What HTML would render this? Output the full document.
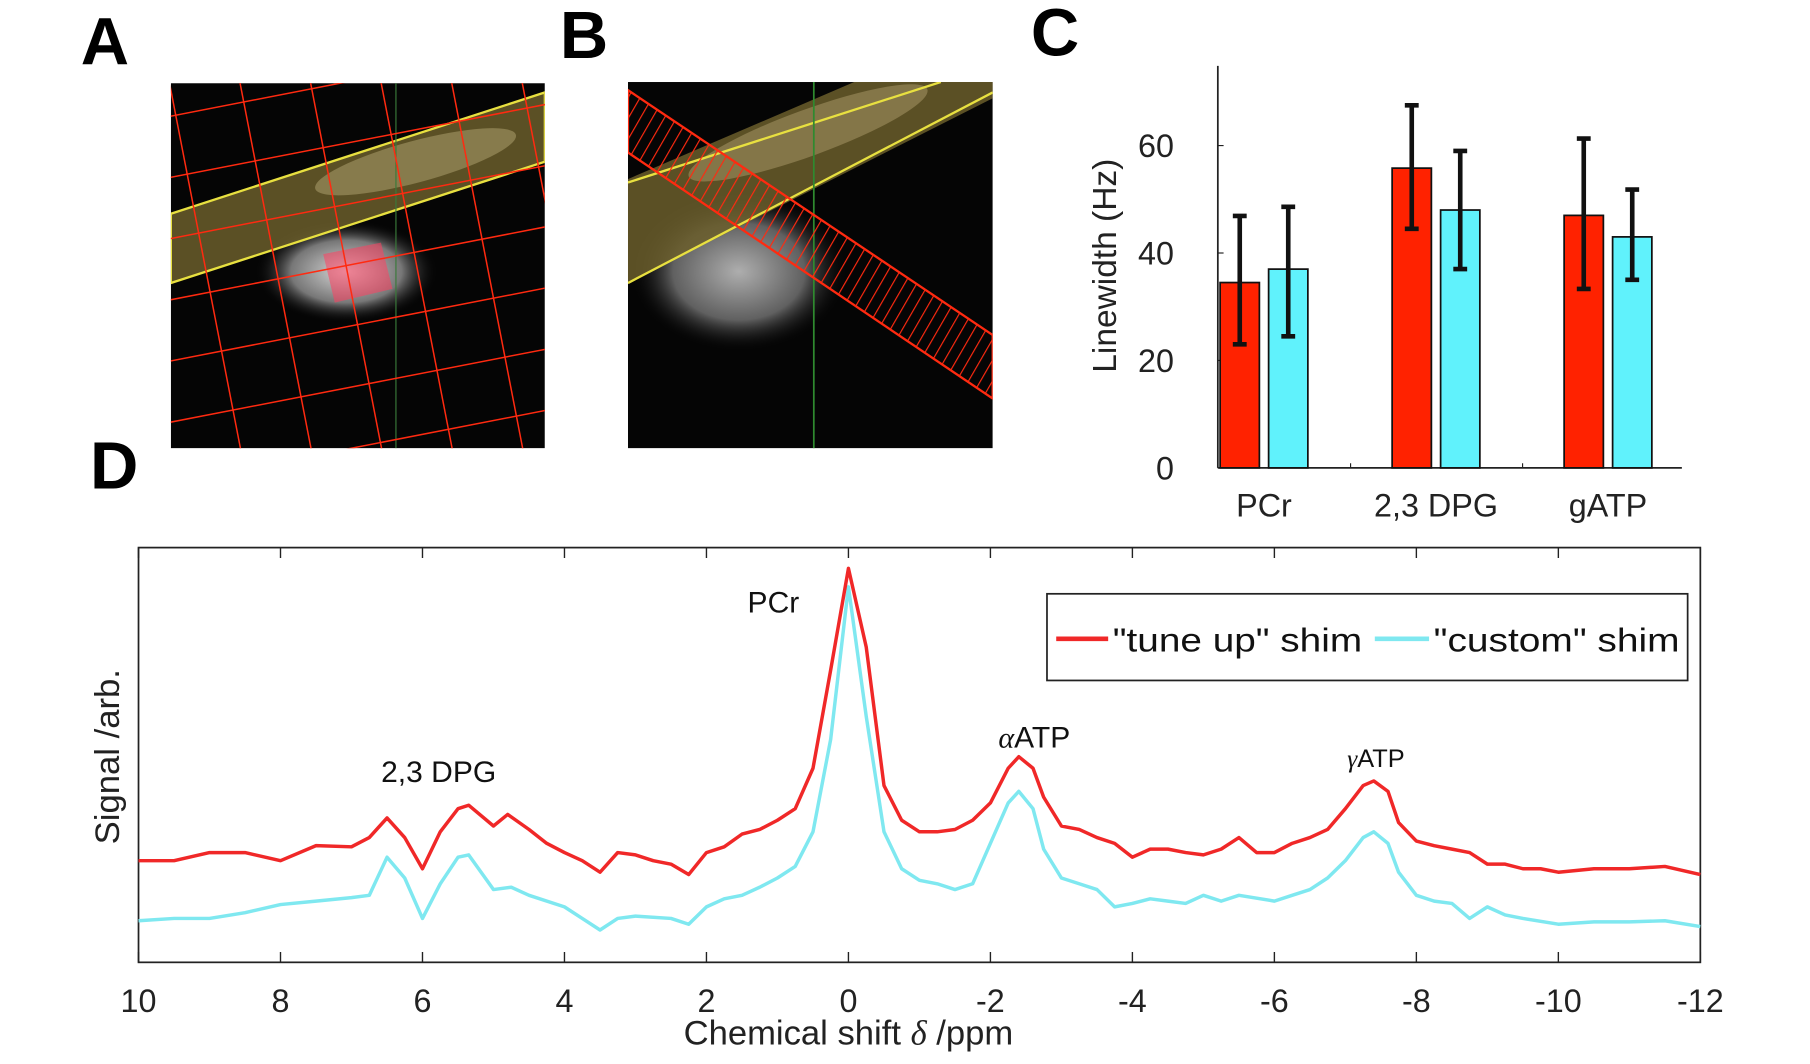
<!DOCTYPE html>
<html><head><meta charset="utf-8"><style>
html,body{margin:0;padding:0;background:#fff}
svg{display:block}
text{font-family:"Liberation Sans",Arial,sans-serif}
</style></head><body>
<svg id="fig" width="1810" height="1064" viewBox="0 0 1568 921" preserveAspectRatio="none" xmlns="http://www.w3.org/2000/svg">
<defs>
<clipPath id="clipA"><rect x="148" y="72" width="324" height="316"/></clipPath>
<clipPath id="clipB"><rect x="544" y="71" width="316" height="317"/></clipPath>
<radialGradient id="blob" cx="0.5" cy="0.5" r="0.5"><stop offset="0" stop-color="#d8d8d8"/><stop offset="0.6" stop-color="#777"/><stop offset="1" stop-color="#000" stop-opacity="0"/></radialGradient>
<pattern id="hatch" width="9" height="9" patternUnits="userSpaceOnUse" patternTransform="rotate(30)"><line x1="0" y1="0" x2="0" y2="9" stroke="#ff2a10" stroke-width="2"/></pattern>
</defs>

<g font-weight="bold" font-size="58">
<text x="70" y="56">A</text>
<text x="485" y="50">B</text>
<text x="893" y="48">C</text>
<text x="78" y="423">D</text>
</g>

<g clip-path="url(#clipA)">
<rect x="148" y="72" width="324" height="316" fill="#050505"/>
<ellipse cx="300" cy="235" rx="80" ry="45" fill="url(#blob)"/>
<polygon points="148,185 472,80 472,140 148,245" fill="#6b5e2c" opacity="0.85"/>
<ellipse cx="360" cy="140" rx="90" ry="18" fill="#9a8d5c" opacity="0.7" transform="rotate(-15 360 140)"/>
<polygon points="148,185 472,80 472,140 148,245" fill="none" stroke="#e8e040" stroke-width="2"/>
<polygon points="280,220 330,210 340,250 290,262" fill="#ff4060" opacity="0.55"/>
<line x1="343" y1="72" x2="343" y2="388" stroke="#3a7a3a" stroke-width="1"/>
<g id="gridA" stroke="#ff2a10" stroke-width="1.3" transform="rotate(-11 310 230)"></g>
</g>

<g clip-path="url(#clipB)">
<rect x="544" y="71" width="316" height="317" fill="#050505"/>
<ellipse cx="640" cy="235" rx="95" ry="70" fill="url(#blob)" opacity="0.8"/>
<polygon points="544,155 740,71 860,71 860,85 544,245" fill="#6b5e2c" opacity="0.85"/>
<ellipse cx="700" cy="115" rx="110" ry="20" fill="#a09060" opacity="0.6" transform="rotate(-20 700 115)"/>
<line x1="544" y1="158" x2="815" y2="71" stroke="#e8e040" stroke-width="2"/>
<line x1="544" y1="245" x2="860" y2="80" stroke="#e8e040" stroke-width="2"/>
<line x1="705" y1="71" x2="705" y2="388" stroke="#2f8a2f" stroke-width="1.5"/>
<polygon points="544,78 860,290 860,345 544,132" fill="url(#hatch)" stroke="#ff2a10" stroke-width="2"/>
</g>

<g id="chartC">
<line x1="1055" y1="57" x2="1055" y2="405" stroke="#222" stroke-width="1.5"/>
<line x1="1055" y1="405" x2="1457" y2="405" stroke="#222" stroke-width="1.5"/>
<g id="cTicks" font-size="28" fill="#222"></g>
<g id="cBars"></g>
<text transform="translate(967,230) rotate(-90)" text-anchor="middle" font-size="29" fill="#222">Linewidth (Hz)</text>
</g>

<g id="chartD">
<rect x="120" y="474" width="1353" height="359" fill="none" stroke="#222" stroke-width="1.5"/>
<g id="dTicks" font-size="28" fill="#222"></g>
<g id="dLines"></g>
<text x="735" y="904" text-anchor="middle" font-size="30" fill="#222">Chemical shift <tspan font-style="italic" font-family="Liberation Serif">δ</tspan> /ppm</text>
<text transform="translate(103,655) rotate(-90)" text-anchor="middle" font-size="30" fill="#222">Signal /arb.</text>
<text x="670" y="530" text-anchor="middle" font-size="26" fill="#111">PCr</text>
<text x="380" y="677" text-anchor="middle" font-size="26" fill="#111">2,3 DPG</text>
<text x="896" y="647" text-anchor="middle" font-size="26" fill="#111"><tspan font-style="italic" font-family="Liberation Serif">α</tspan>ATP</text>
<text x="1192" y="664" text-anchor="middle" font-size="22" fill="#111"><tspan font-style="italic" font-family="Liberation Serif">γ</tspan>ATP</text>
<g>
<rect x="907" y="514" width="555" height="75" fill="#fff" stroke="#222" stroke-width="1.5"/>
<line x1="915" y1="553" x2="960" y2="553" stroke="#f02828" stroke-width="4"/>
<text x="964" y="564" font-size="29" fill="#111" textLength="216" lengthAdjust="spacingAndGlyphs">"tune up" shim</text>
<line x1="1191" y1="553" x2="1238" y2="553" stroke="#7fe8f0" stroke-width="4"/>
<text x="1242" y="564" font-size="29" fill="#111" textLength="213" lengthAdjust="spacingAndGlyphs">"custom" shim</text>
</g>
</g>
</svg>
<script>
// ---- Chart C data ----
const cCategories = ["PCr","2,3 DPG","gATP"];
const cTuneUp = [34.5, 55.8, 47];
const cTuneUpLo = [23, 44.5, 33.3];
const cTuneUpHi = [46.9, 67.5, 61.3];
const cCustom = [37, 48, 43];
const cCustomLo = [24.5, 37, 35];
const cCustomHi = [48.6, 59, 51.8];
const cYTicks = [0, 20, 40, 60];

// ---- Chart D data ----
const dPpm = [10,9.5,9,8.5,8,7.5,7,6.75,6.5,6.25,6,5.75,5.5,5.35,5,4.8,4.5,4.25,4,3.75,3.5,3.25,3,2.75,2.5,2.25,2,1.75,1.5,1.25,1,0.75,0.5,0.25,0,-0.25,-0.5,-0.75,-1,-1.25,-1.5,-1.75,-2,-2.25,-2.4,-2.6,-2.75,-3,-3.25,-3.5,-3.75,-4,-4.25,-4.5,-4.75,-5,-5.25,-5.5,-5.75,-6,-6.25,-6.5,-6.75,-7,-7.25,-7.4,-7.6,-7.75,-8,-8.25,-8.5,-8.75,-9,-9.25,-9.5,-9.75,-10,-10.5,-11,-11.5,-12];
const dTuneUp = [88,88,95,95,88,101,100,108,125,108,81,113,133,136,118,128,115,103,95,88,78,95,93,88,85,76,95,100,111,115,123,133,168,253,341,273,153,123,113,113,115,123,138,168,178,168,143,118,115,108,103,91,98,98,95,93,98,108,95,95,103,108,115,133,153,157,148,121,105,101,98,95,85,85,81,81,78,81,81,83,76];
const dCustomPpm = [10,9.5,9,8.5,8,7.5,7,6.75,6.5,6.25,6,5.75,5.5,5.35,5,4.75,4.5,4,3.75,3.5,3.25,3,2.5,2.25,2,1.75,1.5,1.25,1,0.75,0.5,0.25,0,-0.25,-0.5,-0.75,-1,-1.25,-1.5,-1.75,-2,-2.25,-2.4,-2.6,-2.75,-3,-3.25,-3.5,-3.75,-4,-4.25,-4.5,-4.75,-5,-5.25,-5.5,-6,-6.25,-6.5,-6.75,-7,-7.25,-7.4,-7.6,-7.75,-8,-8.25,-8.5,-8.75,-9,-9.25,-9.5,-10,-10.5,-11,-11.5,-12];
const dCustom = [36,38,38,43,50,53,56,58,91,73,38,68,91,93,63,65,58,48,38,28,38,40,38,33,48,55,58,65,73,83,113,193,325,213,113,81,71,68,63,68,103,138,148,133,98,73,68,63,48,51,55,53,51,58,53,58,53,58,63,73,88,108,113,103,78,58,53,51,38,48,41,38,33,35,35,36,31];
const dXTicks = [10,8,6,4,2,0,-2,-4,-6,-8,-10,-12];

const NS = "http://www.w3.org/2000/svg";
function mk(tag, attrs, parent){const e=document.createElementNS(NS,tag);for(const k in attrs)e.setAttribute(k,attrs[k]);parent.appendChild(e);return e;}

const gA=document.getElementById('gridA');
for(let i=-6;i<=12;i++){
  const l1=mk('line',{x1:0,y1:72+i*52,x2:700,y2:72+i*52},gA);
  
  
  const l2=mk('line',{x1:60+i*60,y1:-100,x2:60+i*60,y2:600},gA);
  
  
}

const cY = v => 405 - v*4.65;
const cGroupX = i => 1095 + i*149;
const cT=document.getElementById('cTicks');
cYTicks.forEach(t=>{
  const tx=mk('text',{x:1017,y:cY(t)+10,'text-anchor':'end'},cT);
  tx.textContent=t;
  
  
  const tl=mk('line',{x1:1055,y1:cY(t),x2:1060,y2:cY(t),stroke:'#222'},cT);
  
  
});
cCategories.forEach((c,i)=>{
  const tx=mk('text',{x:cGroupX(i),y:447,'text-anchor':'middle'},cT);
  tx.textContent=c;
  
  
  if(i<cCategories.length-1){
    const tl=mk('line',{x1:cGroupX(i)+75,y1:405,x2:cGroupX(i)+75,y2:401,stroke:'#222'},cT);
    
    
  }
});
const cB=document.getElementById('cBars');
function bar(x,v,lo,hi,fill,name){
  const r=mk('rect',{x:x,y:cY(v),width:34,height:cY(0)-cY(v),fill:fill,stroke:'#111','stroke-width':1.5},cB);
  
  
  const cx=x+17;
  const e=mk('path',{d:`M${cx},${cY(lo)}V${cY(hi)}M${cx-6},${cY(lo)}H${cx+6}M${cx-6},${cY(hi)}H${cx+6}`,stroke:'#111','stroke-width':4,fill:'none'},cB);
  
  
}
cCategories.forEach((c,i)=>{
  bar(cGroupX(i)-38,cTuneUp[i],cTuneUpLo[i],cTuneUpHi[i],'#ff2200','bar-tune-up-'+i);
  bar(cGroupX(i)+4,cCustom[i],cCustomLo[i],cCustomHi[i],'#60f2fc','bar-custom-'+i);
});

const dX = p => 120 + (10-p)*(1353/22);
const dY = v => 833 - v;
const dT=document.getElementById('dTicks');
dXTicks.forEach(t=>{
  const tx=mk('text',{x:dX(t),y:876,'text-anchor':'middle'},dT);
  tx.textContent=t;
  
  
  const tl=mk('path',{d:`M${dX(t)},833v-9M${dX(t)},474v9`,stroke:'#222','stroke-width':1.2},dT);
  
  
});
const dL=document.getElementById('dLines');
function series(px,vals,color,name){
  const d=px.map((p,i)=>(i?'L':'M')+dX(p).toFixed(1)+','+dY(vals[i]).toFixed(1)).join('');
  const e=mk('path',{d:d,stroke:color,'stroke-width':3,fill:'none','stroke-linejoin':'round'},dL);
  
  
}
series(dCustomPpm,dCustom,'#7fe8f0','custom-shim-line');
series(dPpm,dTuneUp,'#f02828','tune-up-shim-line');
</script>
</body></html>
